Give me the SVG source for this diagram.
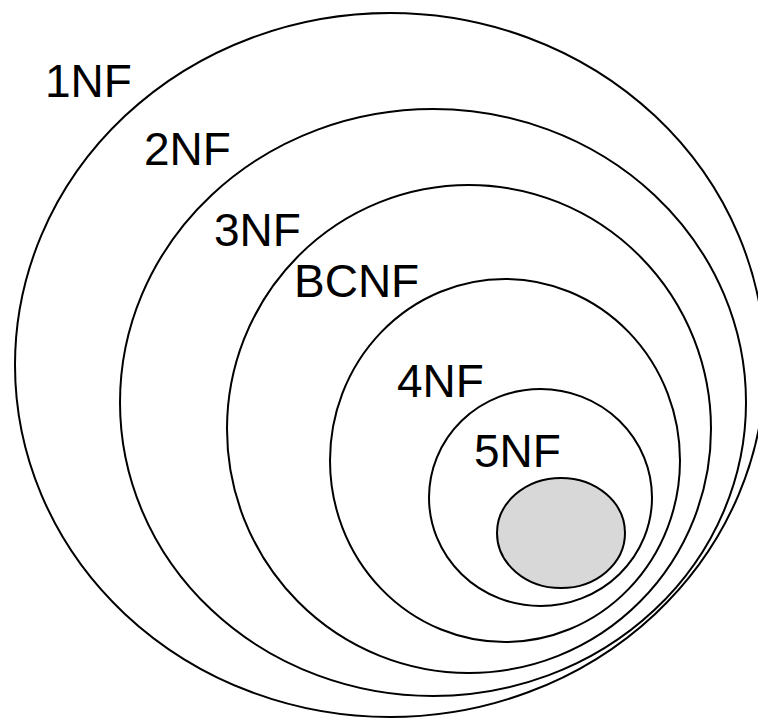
<svg xmlns="http://www.w3.org/2000/svg" width="758" height="720" viewBox="0 0 758 720">
<style>
.e{fill:none;stroke:#000;stroke-width:2}
.g{fill:#d8d8d8;stroke:#000;stroke-width:2}
.t{font-family:"Liberation Sans",Arial,sans-serif;font-size:46px;fill:#000}
</style>
<rect width="758" height="720" fill="#fff"/>
<g id="nf1"><ellipse class="e" cx="390" cy="365" rx="375" ry="352"/><text class="t" x="45" y="97">1NF</text></g>
<g id="nf2"><ellipse class="e" cx="433" cy="402.5" rx="313" ry="293.5"/><text class="t" x="144" y="165">2NF</text></g>
<g id="nf3"><ellipse class="e" cx="469" cy="429" rx="242" ry="244"/><text class="t" x="214" y="246">3NF</text></g>
<g id="bcnf"><ellipse class="e" cx="505" cy="460.5" rx="175" ry="181.5"/><text class="t" x="294" y="297">BCNF</text></g>
<g id="nf4"><ellipse class="e" cx="540.5" cy="497.5" rx="111.5" ry="108.5"/><text class="t" x="397" y="397">4NF</text></g>
<g id="nf5"><ellipse class="g" cx="561" cy="533" rx="64" ry="55"/><text class="t" x="474" y="467">5NF</text></g>
<g id="connectors"></g>
</svg>
